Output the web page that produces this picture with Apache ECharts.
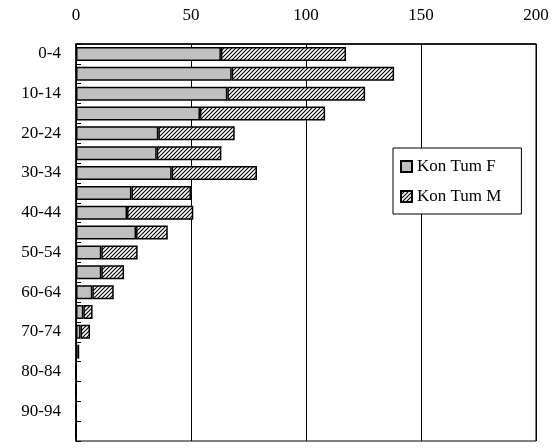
<!DOCTYPE html>
<html><head><meta charset="utf-8">
<script src="https://cdn.jsdelivr.net/npm/echarts@6/dist/echarts.min.js"></script>
<style>html,body{margin:0;padding:0;background:#fff}#c{width:557px;height:447px}</style>
</head><body><div id="c"></div>
<script>
var categories = ['0-4','5-9','10-14','15-19','20-24','25-29','30-34','35-39','40-44','45-49','50-54','55-59','60-64','65-69','70-74','75-79','80-84','85-89','90-94','95-99'];
var femaleValues = [63, 67.7, 65.8, 53.9, 35.8, 35.1, 41.6, 24.1, 22.2, 26.1, 11, 11, 7.1, 3.2, 2, 0.6, 0, 0, 0, 0];
var maleValues = [54.4, 70.6, 59.9, 54.4, 33.2, 28.1, 37.1, 25.9, 28.8, 13.8, 15.8, 9.9, 9.3, 4, 4.1, 0.8, 0, 0, 0, 0];
var seriesNames = ['Kon Tum F', 'Kon Tum M'];
var xTicks = {min: 0, max: 200, interval: 50};

function hatch() {
  var c = document.createElement('canvas');
  c.width = 4; c.height = 4;
  var g = c.getContext('2d');
  g.fillStyle = '#fff'; g.fillRect(0, 0, 4, 4);
  g.strokeStyle = '#000'; g.lineWidth = 1.1;
  g.beginPath();
  g.moveTo(-1, 5); g.lineTo(5, -1);
  g.moveTo(-3, 3); g.lineTo(3, -3);
  g.moveTo(1, 7); g.lineTo(7, 1);
  g.stroke();
  return {image: c, repeat: 'repeat'};
}

var font = '"Liberation Serif", "Times New Roman", serif';
var chart = echarts.init(document.getElementById('c'));
chart.setOption({
  animation: false,
  backgroundColor: '#fff',
  grid: {left: 76, right: 21, top: 44, bottom: 6, show: true, borderColor: '#000', borderWidth: 1, backgroundColor: 'transparent'},
  legend: {
    orient: 'vertical', left: 393, top: 148,
    padding: [10, 20, 9, 7], itemGap: 13,
    backgroundColor: '#fff', borderColor: '#000', borderWidth: 1,
    itemWidth: 11, itemHeight: 11, icon: 'rect', itemGap: 13,
    textStyle: {fontFamily: font, fontSize: 17, color: '#000'},
    data: seriesNames
  },
  xAxis: {
    type: 'value', position: 'top', min: xTicks.min, max: xTicks.max, interval: xTicks.interval,
    axisLine: {show: true, lineStyle: {color: '#000', width: 1.5}},
    axisTick: {show: false},
    axisLabel: {fontFamily: font, fontSize: 17, color: '#000', margin: 20},
    splitLine: {show: true, lineStyle: {color: '#000', width: 1}}
  },
  yAxis: {
    type: 'category', inverse: true, data: categories,
    axisLine: {show: true, lineStyle: {color: '#000', width: 1.5}},
    axisTick: {show: true, inside: true, length: 5, interval: 0, lineStyle: {color: '#000'}},
    axisLabel: {interval: 1, fontFamily: font, fontSize: 17, color: '#000', margin: 15, padding: [3, 0, 0, 0]}
  },
  series: [
    {name: seriesNames[0], type: 'bar', stack: 'a', data: femaleValues, barWidth: 14,
     itemStyle: {color: '#c0c0c0', borderColor: '#000', borderWidth: 1.5}},
    {name: seriesNames[1], type: 'bar', stack: 'a', data: maleValues, barWidth: 14,
     itemStyle: {color: hatch(), borderColor: '#000', borderWidth: 1.5}}
  ]
});
</script></body></html>
